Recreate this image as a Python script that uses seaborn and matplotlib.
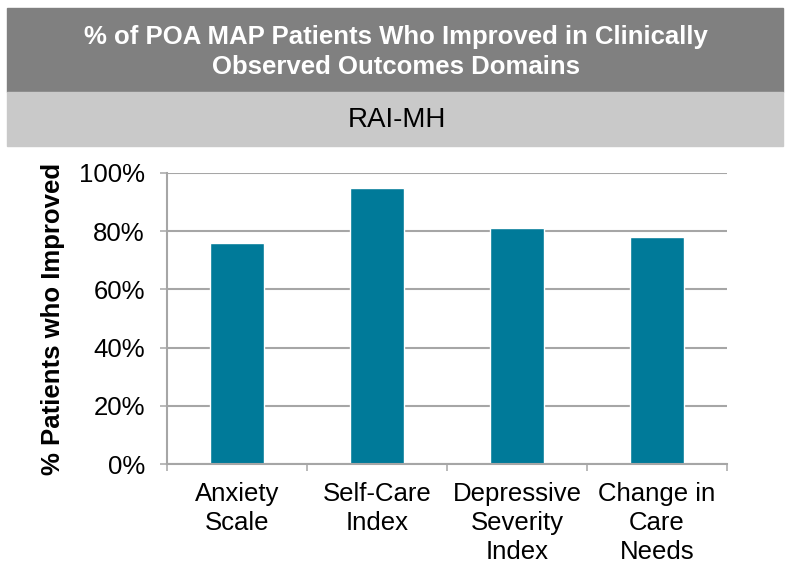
import numpy as np
import pandas as pd
import matplotlib
matplotlib.use('Agg')
import matplotlib.pyplot as plt
from matplotlib.patches import Rectangle
from matplotlib.ticker import FixedLocator, PercentFormatter
import seaborn as sns

# data
categories = ['Anxiety\nScale', 'Self-Care\nIndex', 'Depressive\nSeverity\nIndex', 'Change in\nCare\nNeeds']
pct_improved = [76, 95, 81, 78]
yticks = [0, 20, 40, 60, 80, 100]

title = '% of POA MAP Patients Who Improved in Clinically\nObserved Outcomes Domains'
subtitle = 'RAI-MH'
ylabel = '% Patients who Improved'

sns.set_theme(style='white')
plt.rcParams['font.family'] = ['Liberation Sans', 'DejaVu Sans']

W, H = 791, 567
fig = plt.figure(figsize=(W/100, H/100), dpi=100)

def px(x0, y0, x1, y1):
    # pixel box (top-left origin) -> figure fraction rect
    return [x0/W, 1 - y1/H, (x1-x0)/W, (y1-y0)/H]

# header banners
r = px(7, 8, 783, 92)
fig.patches.append(Rectangle((r[0], r[1]), r[2], r[3], transform=fig.transFigure,
                             color='#808080', zorder=0))
r = px(7, 92, 783, 146)
fig.patches.append(Rectangle((r[0], r[1]), r[2], r[3], transform=fig.transFigure,
                             color='#C9C9C9', zorder=0))
fig.text(396/W, 1 - 52/H, title, ha='center', va='center', color='white',
         fontsize=18.5, fontweight='bold', linespacing=1.27)
fig.text(397/W, 1 - 120/H, subtitle, ha='center', va='center', color='black', fontsize=20)

df = pd.DataFrame({'cat': categories, 'pct': pct_improved})

ax = fig.add_axes(px(167, 173, 727, 464))
sns.barplot(data=df, x='cat', y='pct', color='#007A99', saturation=1, width=0.39, ax=ax)

ax.set_xlim(-0.5, len(categories) - 0.5)
ax.set_ylim(0, 100)
ax.set_yticks(yticks)
ax.yaxis.set_major_formatter(PercentFormatter(decimals=0))
ax.yaxis.grid(True, color='#A6A6A6', linewidth=1.5)
ax.set_axisbelow(True)

for s in ['top', 'right']:
    ax.spines[s].set_visible(False)
for s in ['left', 'bottom']:
    ax.spines[s].set_color('#A6A6A6')
    ax.spines[s].set_linewidth(1.5)

ax.tick_params(axis='y', which='major', left=True, direction='out', length=5, width=1.1,
               color='#A6A6A6', labelsize=18.5, labelcolor='black', pad=11)
ax.tick_params(axis='x', which='major', bottom=False, length=0, labelsize=18.5,
               labelcolor='black', pad=13)
ax.xaxis.set_minor_locator(FixedLocator(np.arange(-0.5, len(categories), 1.0)))
ax.tick_params(axis='x', which='minor', bottom=True, direction='out', length=5, width=1.1,
               color='#A6A6A6')
for lbl in ax.get_xticklabels():
    lbl.set_linespacing(1.26)

ax.set_xlabel('')
ax.set_ylabel(ylabel, fontsize=18.5, fontweight='bold', color='black', labelpad=10)

plt.savefig('out.png', dpi=100)
plt.close()
